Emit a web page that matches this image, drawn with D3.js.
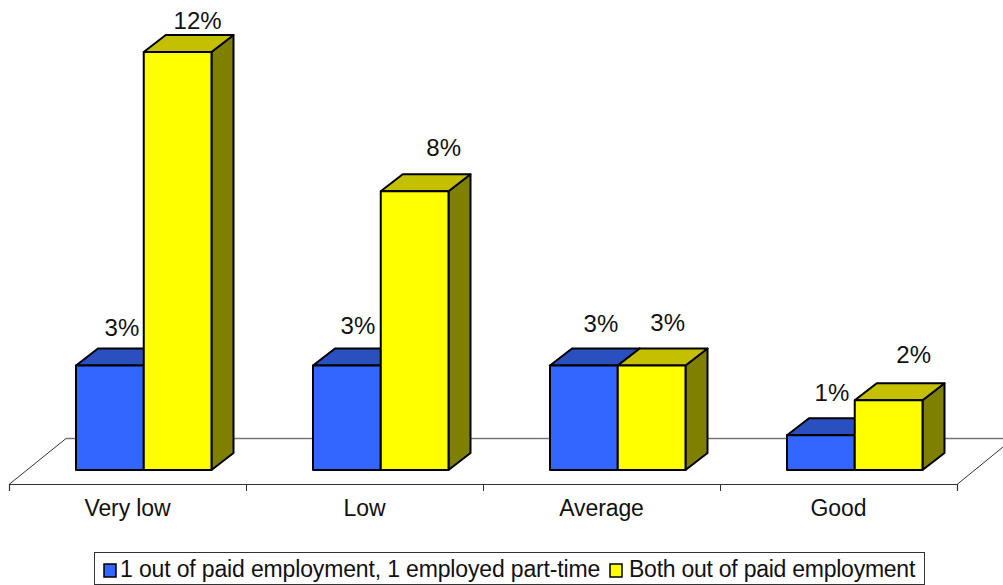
<!DOCTYPE html>
<html><head><meta charset="utf-8">
<script src="https://cdn.jsdelivr.net/npm/d3@7/dist/d3.min.js"></script>
<style>html,body{margin:0;padding:0;background:#fff}svg{display:block}
text{font-family:"Liberation Sans",Arial,sans-serif;fill:#111}</style></head>
<body><svg id="c" width="1003" height="585"></svg>
<script>
const categories=["Very low","Low","Average","Good"];
const seriesNames=["1 out of paid employment, 1 employed part-time","Both out of paid employment"];
const seriesA=[3,3,3,1];
const seriesB=[12,8,3,2];
const labelsA=["3%","3%","3%","1%"];
const labelsB=["12%","8%","3%","2%"];
const frontColors=["#3366ff","#ffff00"];
const topColors=["#2a4fbf","#c4c000"];
const sideColors=["#1f3a8f","#808000"];
const svg=d3.select("#c");
const baseY=470,dx=22,dy=-17;
const x=d3.scaleBand().domain(categories).range([9,957]);
const inner=d3.scaleBand().domain([0,1]).range([67,202.5]);
const y=d3.scaleLinear().domain([0,12]).range([baseY,52]);
// floor
svg.append("path").attr("d","M9,484.5L66,438.5").attr("stroke","#333").attr("fill","none");
svg.append("path").attr("d","M66,438.5H1003").attr("stroke","#777").attr("stroke-width",1.3).attr("fill","none");
svg.append("path").attr("d","M957,484.5L1003,447").attr("stroke","#333").attr("fill","none");
// axis
const axisG=svg.append("g").attr("transform","translate(0,484)")
 .call(d3.axisBottom(x).tickSizeInner(0).tickSizeOuter(7).tickPadding(15.5));
axisG.select(".domain").attr("stroke","#333").attr("stroke-width",1.2);
axisG.selectAll("text").attr("font-size",23).style("letter-spacing","-0.1px");
axisG.attr("font-size",23);
d3.range(1,4).forEach(i=>{const px=Math.round(x.range()[0]+i*x.step())+.5;
 axisG.append("line").attr("x1",px).attr("x2",px).attr("y1",0).attr("y2",7).attr("stroke","#333");});
const series=[seriesA,seriesB];
categories.forEach((c,i)=>{
 [0,1].forEach(s=>{
  const v=series[s][i];
  const x0=x(c)+inner(s),w=inner.bandwidth(),t=y(v);
  const g=svg.append("g").attr("stroke","#000").attr("stroke-width",2).attr("stroke-linejoin","round");
  g.append("path").attr("d",`M${x0+w},${t}l${dx},${dy}V${baseY+dy}l${-dx},${-dy}Z`).attr("fill",sideColors[s]);
  g.append("path").attr("d",`M${x0},${t}l${dx},${dy}h${w}l${-dx},${-dy}Z`).attr("fill",topColors[s]);
  g.append("rect").attr("x",x0).attr("y",t).attr("width",w).attr("height",baseY-t).attr("fill",frontColors[s]);
 });
});
categories.forEach((c,i)=>{
 const xa=x(c)+inner(0)+inner.bandwidth()/2, xb=x(c)+inner(1)+inner.bandwidth()/2;
 svg.append("text").attr("x",xa+[12,11,17,11][i]).attr("y",y(seriesA[i])+[-30,-32,-34,-34][i]).attr("text-anchor","middle").attr("font-size",24).text(labelsA[i]);
 svg.append("text").attr("x",xb+[20,29,16,25][i]).attr("y",y(seriesB[i])+[-23,-35,-35,-37][i]).attr("text-anchor","middle").attr("font-size",24).text(labelsB[i]);
});
// legend
svg.append("rect").attr("x",94.5).attr("y",552.5).attr("width",830).attr("height",32).attr("fill","#fff").attr("stroke","#333");
const lx=[104,610],tx=[120,629],ls=[-0.15,-0.25];
seriesNames.forEach((n,i)=>{
 svg.append("rect").attr("x",lx[i]).attr("y",564).attr("width",12).attr("height",13).attr("fill",frontColors[i]).attr("stroke","#000").attr("stroke-width",1.5);
 svg.append("text").attr("x",tx[i]).attr("y",577).attr("font-size",23).style("letter-spacing",ls[i]+"px").text(n);
});
</script></body></html>
